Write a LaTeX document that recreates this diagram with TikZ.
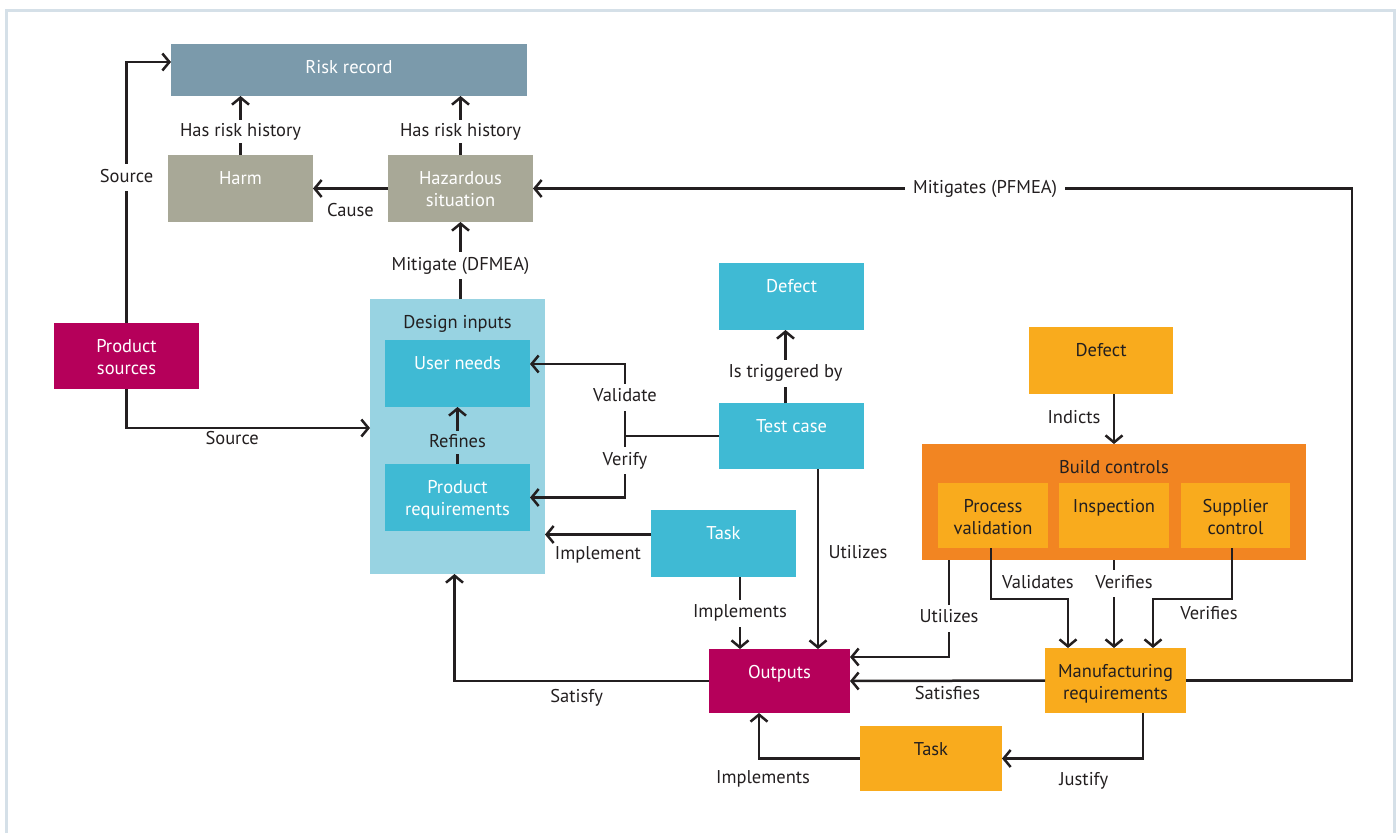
\documentclass[tikz,border=0pt]{standalone}
\usepackage{fontspec}
\setmainfont{PT Sans}
\usetikzlibrary{arrows.meta,calc}
\definecolor{riskc}{HTML}{7B9AAB}
\definecolor{harmc}{HTML}{A8A897}
\definecolor{magc}{HTML}{B5005A}
\definecolor{dinc}{HTML}{98D3E2}
\definecolor{bluec}{HTML}{3FBAD4}
\definecolor{yelc}{HTML}{F9AB1D}
\definecolor{orac}{HTML}{F28522}
\definecolor{ink}{HTML}{231F20}
\definecolor{framec}{HTML}{D5E0E8}
\newcommand\bxt[3]{\parbox[c][#2][t]{#1}{\centering\rule{0pt}{29.5pt}#3\par}}
\begin{document}
\begin{tikzpicture}[x=1pt,y=-1pt,
  box/.style={inner sep=0pt, outer sep=0pt, anchor=north west, text=white, font=\fontsize{18.5}{21.5}\selectfont},
  lbl/.style={fill=white, inner xsep=8pt, inner ysep=5pt, text=ink, font=\fontsize{18.5}{21.5}\selectfont, text height=13pt, text depth=4pt},
  arr/.style={draw=ink, line width=2.5pt, -{Straight Barb[length=7pt,width=17pt]}},
  ln/.style={draw=ink, line width=2.5pt}]
\useasboundingbox (0,0) rectangle (1399,833);
\draw[framec, line width=3pt] (6,833) -- (6,10) -- (1394,10) -- (1394,833);

\node[box,fill=riskc] (risk) at (171,44) {\bxt{356pt}{52pt}{Risk record}};
\node[box,fill=harmc] (harm) at (168,155) {\bxt{145pt}{67pt}{Harm}};
\node[box,fill=harmc] (haz) at (388,155) {\bxt{145pt}{67pt}{Hazardous\\situation}};
\node[box,fill=magc] (psrc) at (54,323) {\bxt{145pt}{66pt}{Product\\sources}};
\node[box,fill=dinc,text=ink] (din) at (370,299) {\bxt{175pt}{275pt}{Design inputs}};
\node[box,fill=bluec] (uneeds) at (385,340) {\bxt{145pt}{67pt}{User needs}};
\node[box,fill=bluec] (preq) at (385,464) {\bxt{145pt}{67pt}{Product\\requirements}};
\node[box,fill=bluec] (defb) at (719,263) {\bxt{145pt}{67pt}{Defect}};
\node[box,fill=bluec] (tcase) at (719,403) {\bxt{145pt}{66pt}{Test case}};
\node[box,fill=bluec] (taskb) at (651,510) {\bxt{145pt}{67pt}{Task}};
\node[box,fill=magc] (outp) at (709,649) {\bxt{141pt}{64pt}{Outputs}};
\node[box,fill=yelc,text=ink] (defo) at (1029,327) {\bxt{144pt}{67pt}{Defect}};
\node[box,fill=orac,text=ink] (bctl) at (922,444) {\bxt{384pt}{116pt}{Build controls}};
\node[box,fill=yelc,text=ink] (pval) at (938,483) {\bxt{110pt}{65pt}{Process\\validation}};
\node[box,fill=yelc,text=ink] (insp) at (1059,483) {\bxt{110pt}{65pt}{Inspection}};
\node[box,fill=yelc,text=ink] (supc) at (1181,483) {\bxt{109pt}{65pt}{Supplier\\control}};
\node[box,fill=yelc,text=ink] (mreq) at (1045,648) {\bxt{141pt}{65pt}{Manufacturing\\requirements}};
\node[box,fill=yelc,text=ink] (tasko) at (860,726) {\bxt{142pt}{65pt}{Task}};

\draw[arr] (harm.north) -- (harm.north |- risk.south) node[lbl,pos=0.39,inner ysep=3pt] (l1) {Has risk history};
\draw[arr] (haz.north) -- (haz.north |- risk.south) node[lbl,pos=0.39,inner ysep=3pt] (l2) {Has risk history};
\draw[arr] (haz.west) -- (harm.east) node[lbl,midway,yshift=-23pt,fill=none] (l3) {Cause};
\draw[arr] (psrc.north) |- ([yshift=8pt]risk.west) node[lbl,pos=0.278] (l4) {Source};
\draw[arr] (psrc.south) |- ([yshift=8.5pt]din.west) node[lbl,pos=0.717,yshift=-12pt,fill=none] (l5) {Source};
\draw[arr] (din.north -| haz.south) -- (haz.south) node[lbl,pos=0.43] (l6) {Mitigate (DFMEA)};
\draw[arr] (mreq.east) -- ++(166,0) |- (haz.east) node[lbl,pos=0.724] (l7) {Mitigates (PFMEA)};
\draw[arr] (preq.north) -- (uneeds.south) node[lbl,pos=0.37,fill=dinc,inner ysep=3pt] (l8) {Refines};
\draw[arr] ([xshift=-6pt]tcase.north) -- ([xshift=-6pt]defb.south) node[lbl,pos=0.41] (l9) {Is triggered by};
\coordinate (vv) at (625,436);
\draw[ln] (tcase.west) -- (vv);
\draw[arr] (vv) |- ([yshift=9.5pt]uneeds.east) node[lbl,pos=0.27] (l10) {Validate};
\draw[arr] (vv) |- (preq.east) node[lbl,pos=0.2] (l11) {Verify};
\draw[arr] ([yshift=9pt]taskb.west) -- ([yshift=9pt]taskb.west -| din.east) node[lbl,midway,yshift=-20pt,fill=none] (l12) {Implement};
\draw[arr] ([xshift=16.5pt]taskb.south) -- ([xshift=16.5pt]taskb.south |- outp.north) node[lbl,midway] (l13) {Implements};
\draw[arr] ([xshift=26.5pt]tcase.south) -- ([xshift=26.5pt]tcase.south |- outp.north) node[lbl,pos=0.47,xshift=40pt,fill=none] (l14) {Utilizes};
\draw[arr] (outp.west) -| ([xshift=-3pt]din.south) node[lbl,pos=0.26,yshift=-17pt,fill=none] (l15) {Satisfy};
\draw[arr] (bctl.north |- defo.south) -- (bctl.north) node[lbl,midway,xshift=-40pt,fill=none] (l16) {Indicts};
\draw[arr] ([xshift=-165pt]bctl.south) |- ([yshift=24pt]outp.east) node[lbl,pos=0.3] (l17) {Utilizes};
\draw[arr] ([xshift=-2pt]pval.south) -- ++(0,51) -| ([xshift=-47.5pt]mreq.north) node[lbl,pos=0.305,yshift=15pt,fill=none] (l18) {Validates};
\draw[arr] (bctl.south) -- (bctl.south |- mreq.north) node[lbl,pos=0.27,xshift=10pt,inner xsep=2pt] (l19) {Verifies};
\draw[arr] ([xshift=-3.5pt]supc.south) -- ++(0,51) -| ([xshift=37.5pt]mreq.north) node[lbl,pos=0.146,yshift=-16pt,fill=none] (l20) {Verifies};
\draw[arr] (mreq.west) -- (outp.east) node[lbl,midway,yshift=-14pt,fill=none] (l21) {Satisfies};
\draw[arr] ([xshift=27.5pt]mreq.south) |- (tasko.east) node[lbl,pos=0.71,yshift=-22pt,fill=none] (l22) {Justify};
\draw[arr] (tasko.west) -| ([xshift=-20.5pt]outp.south) node[lbl,pos=0.48,yshift=-20pt,fill=none] (l23) {Implements};
\end{tikzpicture}
\end{document}
